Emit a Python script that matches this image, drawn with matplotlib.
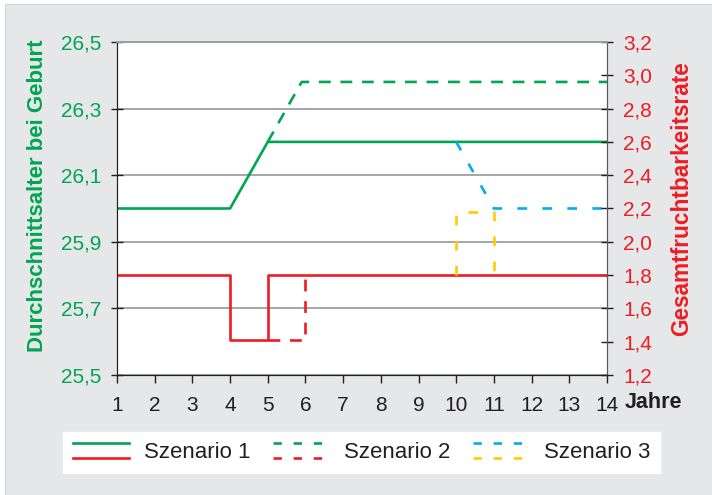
import numpy as np
import matplotlib
matplotlib.use("Agg")
import matplotlib.pyplot as plt
from matplotlib.lines import Line2D
from matplotlib.patches import Rectangle
from matplotlib.legend_handler import HandlerBase
from matplotlib.ticker import FixedLocator, FuncFormatter

# ---------- data ----------
jahre = list(range(1, 15))

# mean age at birth (left axis)
s1_alter_x = [1, 4, 5, 14]
s1_alter = [26.0, 26.0, 26.2, 26.2]
s2_alter_x = [5, 5.9, 14]
s2_alter = [26.2, 26.38, 26.38]
s3_alter_x = [10, 11, 14]
s3_alter = [26.2, 26.0, 26.0]

# total fertility rate (right axis)
s1_tfr_x = [1, 4, 4, 5, 5, 14]
s1_tfr = [1.8, 1.8, 1.41, 1.41, 1.8, 1.8]
s2_tfr_x = [5, 6, 6]
s2_tfr = [1.41, 1.41, 1.8]
s3_tfr_x = [10, 10, 11, 11]
s3_tfr = [1.8, 2.18, 2.18, 1.8]

alter_ticks = [25.5, 25.7, 25.9, 26.1, 26.3, 26.5]
tfr_ticks = [1.2, 1.4, 1.6, 1.8, 2.0, 2.2, 2.4, 2.6, 2.8, 3.0, 3.2]
szenarien = ["Szenario 1", "Szenario 2", "Szenario 3"]

# ---------- style ----------
green = "#00a651"
red = "#ed1c24"
blue = "#00aeef"
yellow = "#ffcc00"
dark = "#231f20"
bg = "#e6e7e8"
lw = 1.9
dash_long = (8.5, 7)
dash_short = (7, 11)

plt.rcParams["font.family"] = ["Liberation Sans", "DejaVu Sans"]
plt.rcParams["lines.scale_dashes"] = False


def komma(v, pos=None):
    return f"{v:.1f}".replace(".", ",")


fig = plt.figure(figsize=(7.12, 4.95), dpi=100)
fig.patch.set_facecolor("white")
# grey panel, leaving a thin white margin at top and left
fig.patches.append(Rectangle((5 / 712, 0), 1, 1 - 4 / 495, transform=fig.transFigure,
                             facecolor=bg, edgecolor="#d1d3d4", lw=0.8, zorder=-10))

ax = fig.add_axes([0.1643, 0.2424, 0.6882, 0.6728])
ax2 = ax.twinx()

# ---------- left axis: age ----------
ax.set_xlim(1, 14)
ax.set_ylim(25.5, 26.5)
ax.yaxis.set_major_locator(FixedLocator(alter_ticks))
ax.yaxis.set_major_formatter(FuncFormatter(komma))
ax.set_xticks(jahre)
ax.grid(axis="y", color="#9d9fa2", lw=1.3)
ax.set_axisbelow(True)

ax.plot(s1_alter_x, s1_alter, color=green, lw=lw, zorder=3)
ax.plot(s2_alter_x, s2_alter, color=green, lw=lw, dashes=dash_long, zorder=3)
ax.plot(s3_alter_x, s3_alter, color=blue, lw=lw, dashes=dash_short, zorder=3)

# ---------- right axis: fertility ----------
ax2.set_ylim(1.2, 3.2)
ax2.yaxis.set_major_locator(FixedLocator(tfr_ticks))
ax2.yaxis.set_major_formatter(FuncFormatter(komma))
ax2.plot(s1_tfr_x, s1_tfr, color=red, lw=lw, zorder=3)
ax2.plot(s2_tfr_x, s2_tfr, color=red, lw=lw, dashes=dash_long, zorder=3)
ax2.plot(s3_tfr_x, s3_tfr, color=yellow, lw=lw, dashes=dash_short, zorder=3)

# ---------- spines and ticks ----------
for a in (ax, ax2):
    a.spines["top"].set_color("#9d9fa2")
    a.spines["top"].set_linewidth(1.3)
    a.spines["left"].set_color(dark)
    a.spines["bottom"].set_color(dark)
    a.spines["right"].set_color("#58595b")
    for s in a.spines.values():
        s.set_zorder(4)

ax.tick_params(axis="y", direction="inout", length=9, width=1, color=dark,
               labelcolor=green, labelsize=15, pad=7)
ax.tick_params(axis="x", direction="out", length=6, width=1, color=dark,
               labelcolor=dark, labelsize=15, pad=9)
ax2.tick_params(axis="y", direction="inout", length=9, width=1, color=dark,
                labelcolor=red, labelsize=15, pad=7)

ax.annotate("Jahre", xy=(1, 0), xycoords="axes fraction",
            xytext=(13, -12.5), textcoords="offset points",
            ha="left", va="top", fontsize=15.5, fontweight="bold", color=dark)

fig.text(0.052, 0.605, "Durchschnittsalter bei Geburt", rotation=90,
         ha="center", va="center", fontsize=16, fontweight="bold", color=green)
fig.text(0.958, 0.598, "Gesamtfruchtbarkeitsrate", rotation=90,
         ha="center", va="center", fontsize=16.3, fontweight="bold", color=red)


# ---------- legend with two stacked line samples ----------
class PairHandler(HandlerBase):
    def create_artists(self, legend, orig_handle, xdescent, ydescent,
                       width, height, fontsize, trans):
        top, bottom = orig_handle
        out = []
        for line, yf in ((top, 0.95), (bottom, 0.0)):
            l = Line2D([-xdescent, -xdescent + width],
                       [-ydescent + yf * height] * 2,
                       color=line.get_color(), lw=line.get_linewidth(),
                       linestyle=line.get_linestyle(), transform=trans)
            if line.get_linestyle() != "-":
                l.set_dashes((6, 8.5))
            out.append(l)
        return out


handles = [
    (Line2D([], [], color=green, lw=lw), Line2D([], [], color=red, lw=lw)),
    (Line2D([], [], color=green, lw=lw, ls="--"), Line2D([], [], color=red, lw=lw, ls="--")),
    (Line2D([], [], color=blue, lw=lw, ls="--"), Line2D([], [], color=yellow, lw=lw, ls="--")),
]
leg = fig.legend(handles, szenarien, handler_map={tuple: PairHandler()},
                 loc="center", bbox_to_anchor=(0.508, 0.086), ncol=3,
                 fontsize=16, frameon=True, fancybox=False, framealpha=1,
                 edgecolor="white", facecolor="white", handlelength=2.5,
                 handletextpad=0.7, columnspacing=1.0, borderpad=0.45)
for t in leg.get_texts():
    t.set_color(dark)

fig.savefig("out.png", dpi=100)
